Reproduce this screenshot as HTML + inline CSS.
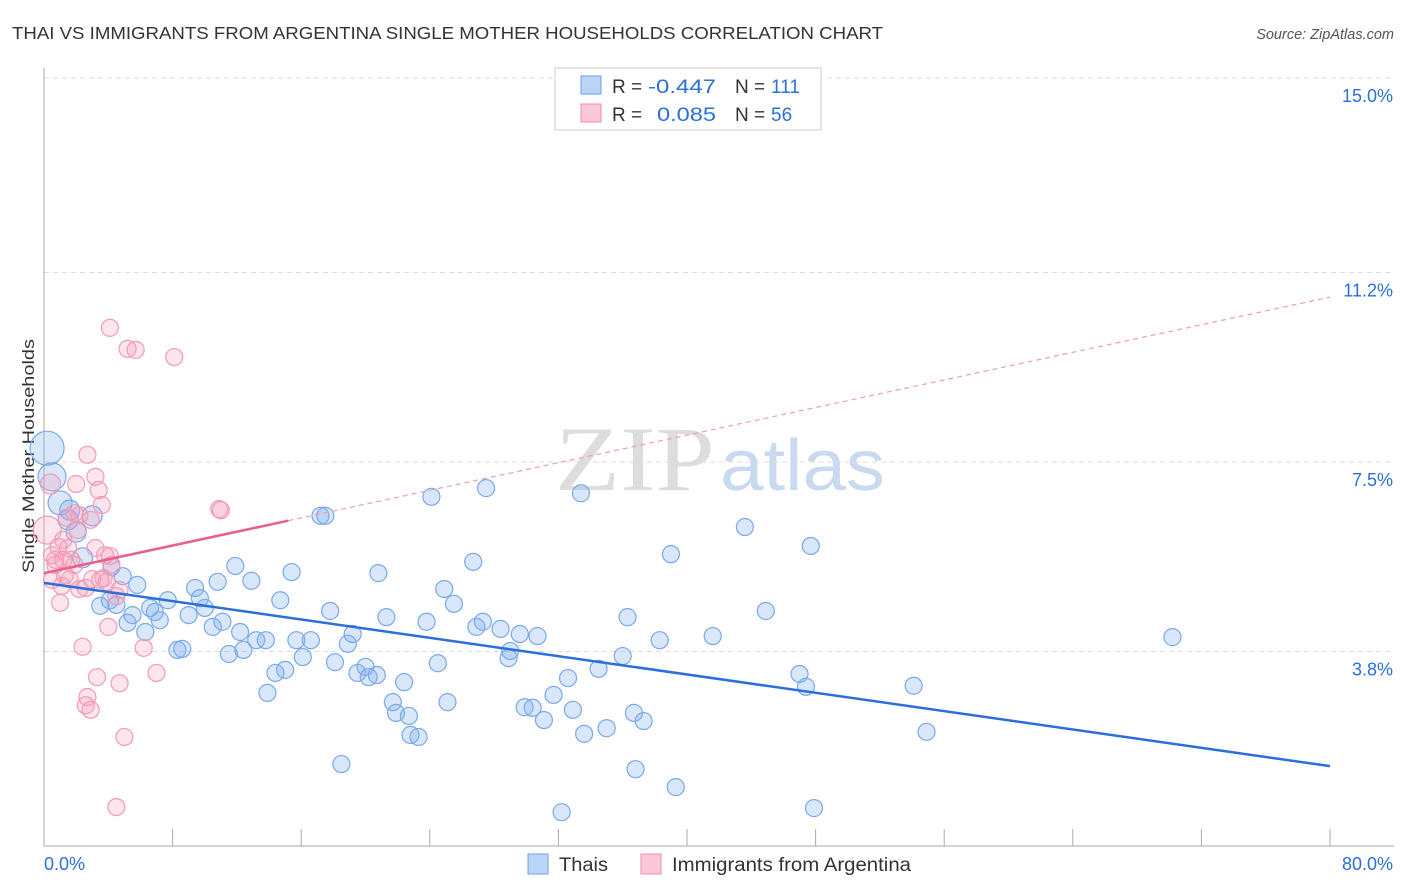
<!DOCTYPE html>
<html><head><meta charset="utf-8"><style>
body{margin:0;background:#fff;font-family:"Liberation Sans",sans-serif;}
svg{display:block}
</style></head><body>
<svg id="chart" width="1406" height="892" xmlns="http://www.w3.org/2000/svg">
<text x="12" y="39" font-size="17.5" fill="#333" textLength="871" lengthAdjust="spacingAndGlyphs">THAI VS IMMIGRANTS FROM ARGENTINA SINGLE MOTHER HOUSEHOLDS CORRELATION CHART</text>
<text x="1394" y="39" font-size="14.5" fill="#555" font-style="italic" text-anchor="end">Source: ZipAtlas.com</text>
<g>
<text x="555" y="490" font-family="Liberation Serif,serif" font-size="92" fill="#ddd" textLength="160" lengthAdjust="spacingAndGlyphs">ZIP</text>
<text x="720" y="490" font-size="72" fill="#c9d9f0" textLength="165" lengthAdjust="spacingAndGlyphs">atlas</text>
</g>
<text transform="translate(34,456) rotate(-90)" font-size="17" fill="#333" text-anchor="middle" textLength="234" lengthAdjust="spacingAndGlyphs">Single Mother Households</text>
<g id="grid"></g><g id="ticks"></g><g id="pts"></g><g id="trend"></g>
<g font-size="19">
<rect x="555" y="68" width="266" height="62" fill="#fff" stroke="#ccc"/>
<rect x="581" y="76" width="20" height="18" fill="#bcd4f5" stroke="#6a9ee8"/>
<rect x="581" y="104" width="20" height="18" fill="#fbc8d8" stroke="#f08cb0"/>
<text x="612" y="93" fill="#333">R =</text>
<text x="648" y="93" fill="#2a6fdb" textLength="68" lengthAdjust="spacingAndGlyphs">-0.447</text>
<text x="735" y="93" fill="#333">N =</text>
<text x="771" y="93" fill="#2a6fdb">111</text>
<text x="612" y="121" fill="#333">R =</text>
<text x="657" y="121" fill="#2a6fdb" textLength="59" lengthAdjust="spacingAndGlyphs">0.085</text>
<text x="735" y="121" fill="#333">N =</text>
<text x="771" y="121" fill="#2a6fdb">56</text>
</g>
<g>
<rect x="528" y="854" width="20" height="20" fill="#bcd4f5" stroke="#6a9ee8"/>
<text x="559" y="871" font-size="19" fill="#333" textLength="49" lengthAdjust="spacingAndGlyphs">Thais</text>
<rect x="641" y="854" width="20" height="20" fill="#fbc8d8" stroke="#f08cb0"/>
<text x="672" y="871" font-size="19" fill="#333" textLength="239" lengthAdjust="spacingAndGlyphs">Immigrants from Argentina</text>
</g>
</svg>
<script>
const yTicks=[3.8,7.5,11.2,15.0];
const yTickLabels=["3.8%","7.5%","11.2%","15.0%"];
const xTicks=[0,8,16,24,32,40,48,56,64,72,80];
const thaiX=[0.19,0.5,1.0,1.5,1.6,2.0,2.4,3.0,3.5,4.1,4.2,4.5,4.9,5.2,5.5,5.8,6.3,6.6,6.9,7.2,7.7,8.3,8.6,9.0,9.4,9.7,10.0,10.5,10.8,11.1,11.5,11.9,12.2,12.4,12.9,13.2,13.8,13.9,14.4,14.7,15.0,15.4,15.7,16.1,16.6,17.2,17.5,17.8,18.1,18.5,18.9,19.2,19.5,20.0,20.2,20.7,20.8,21.3,21.7,21.9,22.4,22.7,22.8,23.3,23.8,24.1,24.5,24.9,25.1,25.5,26.7,26.9,27.3,27.5,28.4,28.9,29.0,29.6,29.9,30.4,30.7,31.1,31.7,32.2,32.6,32.9,33.4,33.6,34.5,35.0,36.0,36.3,36.7,36.8,37.3,38.3,39.0,39.3,41.6,43.6,44.9,47.0,47.4,47.7,47.9,54.1,54.9,70.2];
const thaiY=[7.77,7.21,6.70,6.37,6.56,6.13,5.63,6.45,4.69,4.80,5.45,4.71,5.27,4.36,4.51,5.10,4.18,4.65,4.57,4.41,4.80,3.83,3.85,4.51,5.04,4.84,4.65,4.28,5.16,4.38,3.75,5.47,4.18,3.83,5.18,4.02,4.02,2.99,3.38,4.80,3.44,5.35,4.02,3.69,4.02,6.45,6.45,4.59,3.59,1.60,3.95,4.14,3.38,3.50,3.30,3.34,5.33,4.47,2.81,2.60,3.20,2.54,2.17,2.13,4.38,6.82,3.57,5.02,2.81,4.73,5.55,4.28,4.38,6.99,4.24,3.67,3.81,4.14,2.71,2.70,4.10,2.46,2.95,0.66,3.28,2.66,6.89,2.19,3.46,2.30,3.71,4.47,2.60,1.50,2.44,4.02,5.70,1.15,4.10,6.23,4.59,3.36,3.11,5.86,0.74,3.13,2.23,4.08];
const argX=[0.2,0.4,0.5,0.7,0.9,1.0,1.1,1.2,1.4,1.5,1.6,1.7,1.9,2.0,2.1,2.2,2.4,2.6,2.6,2.7,2.7,2.9,3.0,3.2,3.2,3.3,3.4,3.6,3.7,3.9,4.0,4.1,4.1,4.2,4.5,4.5,4.7,5.0,5.2,5.7,6.2,7.0,8.1,10.9,11.0,3.5,2.2,1.2,0.7,2.9,1.9,4.7,3.8,1.3,0.5];
const argY=[6.17,7.07,5.68,5.59,5.84,4.75,5.08,5.98,6.41,5.82,5.21,5.59,6.50,7.07,6.17,5.02,3.89,5.04,2.75,7.64,2.91,2.66,5.21,5.82,7.21,3.30,6.95,6.66,5.23,5.16,4.28,5.66,10.12,5.49,4.88,0.76,3.18,2.13,9.71,9.69,3.87,3.38,9.55,6.58,6.56,5.20,6.46,5.59,5.49,6.37,5.49,5.00,5.68,5.29,5.20];
const thaiTrend=[5.14,1.56];
const argTrend=[5.33,10.72];
const NS="http://www.w3.org/2000/svg";
const X0=44,X1=1330,Y0=846,PPY=51.2;
const xs=v=>X0+v*(X1-X0)/80, ys=v=>Y0-v*PPY;
function mk(tag,attrs,parent){const e=document.createElementNS(NS,tag);for(const k in attrs)e.setAttribute(k,attrs[k]);document.getElementById(parent).appendChild(e);return e;}
yTicks.forEach((t,i)=>{
 const g=mk('line',{x1:X0,x2:1394,y1:ys(t),y2:ys(t),stroke:'#ddd','stroke-dasharray':'5,4'},'grid');
 
 
 const tx=mk('text',{x:1393,y:ys(t)+24,'font-size':18,fill:'#2a6fdb','text-anchor':'end'},'ticks');
 tx.textContent=yTickLabels[i];
 
 
});
const ax=mk('line',{x1:X0,x2:X0,y1:68,y2:Y0,stroke:'#aaa'},'grid');


const bx=mk('line',{x1:X0,x2:1394,y1:Y0,y2:Y0,stroke:'#aaa'},'grid');


xTicks.forEach(t=>{
 const l=mk('line',{x1:xs(t),x2:xs(t),y1:Y0,y2:Y0-17,stroke:'#aaa'},'ticks');
 
 
});
const xl0=mk('text',{x:44,y:870,'font-size':18,fill:'#2a6fdb'},'ticks');xl0.textContent='0.0%';


const xl1=mk('text',{x:1393,y:870,'font-size':18,fill:'#2a6fdb','text-anchor':'end'},'ticks');xl1.textContent='80.0%';


thaiX.forEach((v,i)=>{
 const r=i==0?17:i==1?14:i==2?12:i<8?10:8.5;
 const c=mk('circle',{cx:xs(v),cy:ys(thaiY[i]),r:r,fill:'rgba(130,175,240,0.3)',stroke:'#7aa8ec','stroke-width':1.2},'pts');
 
 
});
argX.forEach((v,i)=>{
 const r=i==0?14:i==1?10:8.5;
 const c=mk('circle',{cx:xs(v),cy:ys(argY[i]),r:r,fill:'rgba(245,160,185,0.28)',stroke:'#f29ab8','stroke-width':1.2},'pts');
 
 
});
const bt=mk('line',{x1:xs(0),y1:ys(thaiTrend[0]),x2:xs(80),y2:ys(thaiTrend[1]),stroke:'#2a6fdb','stroke-width':2.5},'trend');


const f=v=>argTrend[0]+(argTrend[1]-argTrend[0])*v/80;
const ps=mk('line',{x1:xs(0),y1:ys(f(0)),x2:xs(15.2),y2:ys(f(15.2)),stroke:'#e8608c','stroke-width':2.5},'trend');


const pd=mk('line',{x1:xs(15.2),y1:ys(f(15.2)),x2:xs(80),y2:ys(f(80)),stroke:'#e8a0b8','stroke-width':1.2,'stroke-dasharray':'5,4'},'trend');


</script>
</body></html>
